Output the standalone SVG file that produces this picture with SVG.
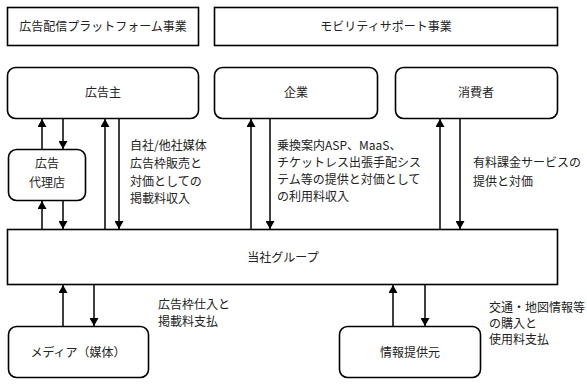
<svg xmlns="http://www.w3.org/2000/svg" width="587" height="385" viewBox="0 0 587 385">
<defs>
<marker id="ah" viewBox="0 0 8 9" refX="8" refY="4.5" markerWidth="8" markerHeight="9" markerUnits="userSpaceOnUse" orient="auto">
<path d="M0,0 L8,4.5 L0,9 Z" fill="#000"/>
</marker>
<style>
.box{fill:#fff;stroke:#000;stroke-width:1.6}
.t{font-family:"Noto Sans CJK JP","Noto Sans CJK SC",sans-serif;font-size:12px;fill:#222}
.c{text-anchor:middle}
.ln{stroke:#000;stroke-width:1.5;fill:none;marker-end:url(#ah)}
.pl{stroke:#000;stroke-width:1.5;fill:none}
</style>
</defs>
<rect width="587" height="385" fill="#fff"/>
<g id="seg-ad">
<rect class="box" x="7.5" y="7.5" width="191" height="38"/>
<text class="t c" x="103" y="31">広告配信プラットフォーム事業</text>
</g>
<g id="seg-mobility">
<rect class="box" x="214.5" y="7.5" width="343" height="38"/>
<text class="t c" x="386" y="31">モビリティサポート事業</text>
</g>
<g id="advertiser">
<rect class="box" x="7.5" y="67.5" width="191" height="51" rx="8"/>
<text class="t c" x="103" y="97">広告主</text>
</g>
<g id="company">
<rect class="box" x="214.5" y="67.5" width="163" height="51" rx="8"/>
<text class="t c" x="296" y="97">企業</text>
</g>
<g id="consumer">
<rect class="box" x="395.5" y="67.5" width="162" height="51" rx="8"/>
<text class="t c" x="476" y="97">消費者</text>
</g>
<g id="agency">
<rect class="box" x="8.5" y="149.5" width="77" height="51" rx="8"/>
<text class="t c" x="47" y="168">広告</text>
<text class="t c" x="47" y="187">代理店</text>
</g>
<g id="group">
<rect class="box" x="7.5" y="229.5" width="550" height="55"/>
<text class="t c" x="283" y="262">当社グループ</text>
</g>
<g id="media">
<rect class="box" x="8.5" y="326.5" width="140" height="51" rx="8"/>
<text class="t c" x="78" y="357">メディア（媒体）</text>
</g>
<g id="info">
<rect class="box" x="339.5" y="326.5" width="141" height="51" rx="8"/>
<text class="t c" x="410" y="357">情報提供元</text>
</g>
<g id="connectors">
<line class="ln" x1="42" y1="149" x2="42" y2="119"/>
<line class="ln" x1="63" y1="119" x2="63" y2="149"/>
<line class="ln" x1="42" y1="229" x2="42" y2="201"/>
<line class="ln" x1="63" y1="201" x2="63" y2="229"/>
<line class="ln" x1="105" y1="229" x2="105" y2="119"/>
<line class="ln" x1="119" y1="119" x2="119" y2="229"/>
<line class="ln" x1="251" y1="229" x2="251" y2="119"/>
<line class="ln" x1="270" y1="119" x2="270" y2="229"/>
<line class="ln" x1="440" y1="229" x2="440" y2="119"/>
<line class="ln" x1="460" y1="119" x2="460" y2="229"/>
<line class="ln" x1="63" y1="326" x2="63" y2="285"/>
<line class="ln" x1="94" y1="285" x2="94" y2="326"/>
<line class="ln" x1="393" y1="326" x2="393" y2="285"/>
<line class="ln" x1="425" y1="285" x2="425" y2="326"/>
</g>
<g id="labels">
<text class="t" x="130" y="150">自社/他社媒体</text>
<text class="t" x="130" y="168">広告枠販売と</text>
<text class="t" x="130" y="186">対価としての</text>
<text class="t" x="130" y="203">掲載料収入</text>
<text class="t" x="277" y="150">乗換案内ASP、MaaS、</text>
<text class="t" x="277" y="167">チケットレス出張手配シス</text>
<text class="t" x="277" y="184">テム等の提供と対価として</text>
<text class="t" x="277" y="201">の利用料収入</text>
<text class="t" x="473" y="167">有料課金サービスの</text>
<text class="t" x="473" y="186">提供と対価</text>
<text class="t" x="158" y="309">広告枠仕入と</text>
<text class="t" x="158" y="326">掲載料支払</text>
<text class="t" x="489" y="312">交通・地図情報等</text>
<text class="t" x="489" y="328">の購入と</text>
<text class="t" x="489" y="344">使用料支払</text>
</g>
</svg>
